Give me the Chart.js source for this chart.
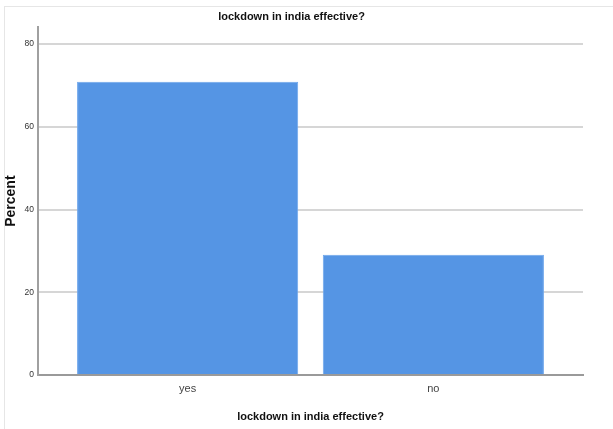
<!DOCTYPE html>
<html>
<head>
<meta charset="utf-8">
<title>lockdown in india effective?</title>
<script src="https://cdn.jsdelivr.net/npm/chart.js@4/dist/chart.umd.min.js"></script>
<style>
    html, body { margin: 0; padding: 0; background: #fff; }
    #wrap { position: relative; width: 613px; height: 429px; }
    #frame {
        position: absolute; left: 4px; top: 6px; right: -2px; bottom: -2px;
        border-left: 1px solid #e6e6e6; border-top: 1px solid #e6e6e6;
    }
    #chart { position: absolute; left: 0; top: 0; }
</style>
</head>
<body>
<div id="wrap">
    <div id="frame"></div>
    <canvas id="chart" width="613" height="429"></canvas>
</div>
<script>
// Data
const categories = ['yes', 'no'];
const percentValues = [70.9, 29.1];
const yTicks = [0, 20, 40, 60, 80];

const chartTitle = 'lockdown in india effective?';
const yAxisTitle = 'Percent';

Chart.defaults.font.family = 'Arial, "Liberation Sans", sans-serif';

// bars sit on a linear x scale so the axis can run past the categories
const barPoints = categories.map(function(c, i) {
    return { x: i, y: percentValues[i] };
});

const ctx = document.getElementById('chart').getContext('2d');
const barChart = new Chart(ctx, {
    type: 'bar',
    data: {
        datasets: [{
            label: 'Percent',
            data: barPoints,
            backgroundColor: '#5595e4',
            borderColor: '#6ea6ec',
            borderWidth: 1,
            categoryPercentage: 1,
            barPercentage: 0.9
        }]
    },
    options: {
        responsive: false,
        animation: false,
        layout: {
            padding: { left: 0, right: 30, top: 0, bottom: 0 }
        },
        scales: {
            x: {
                type: 'linear',
                offset: false,
                min: -0.609,
                max: 1.609,
                grid: { display: false, drawTicks: false },
                border: { display: true, color: '#9a9a9a', width: 2 },
                afterBuildTicks: function(scale) {
                    scale.ticks = categories.map(function(c, i) { return { value: i }; });
                },
                ticks: {
                    padding: 7,
                    color: '#444',
                    font: { size: 11 },
                    callback: function(value) {
                        return categories[value];
                    }
                },
                title: {
                    display: true,
                    text: chartTitle,
                    color: '#111',
                    font: { size: 11, weight: 'bold' },
                    padding: { top: 8.6, bottom: 5 }
                }
            },
            y: {
                min: 0,
                max: 84.1,
                grid: { color: '#d6d6d6', lineWidth: 2, drawTicks: false },
                border: { display: true, color: '#a0a0a0', width: 2 },
                afterBuildTicks: function(scale) {
                    scale.ticks = yTicks.map(function(v) { return { value: v }; });
                },
                afterFit: function(scale) {
                    scale.width = 38;
                },
                ticks: {
                    padding: 4,
                    color: '#333',
                    font: { size: 8.5 }
                },
                title: {
                    display: true,
                    text: yAxisTitle,
                    color: '#111',
                    font: { size: 14, weight: 'bold' },
                    padding: { top: 3, bottom: 4 }
                }
            }
        },
        plugins: {
            legend: { display: false },
            tooltip: { enabled: false },
            title: {
                display: true,
                text: chartTitle,
                color: '#111',
                font: { size: 11, weight: 'bold' },
                padding: { top: 10, bottom: 4 }
            }
        }
    }
});
</script>
</body>
</html>
